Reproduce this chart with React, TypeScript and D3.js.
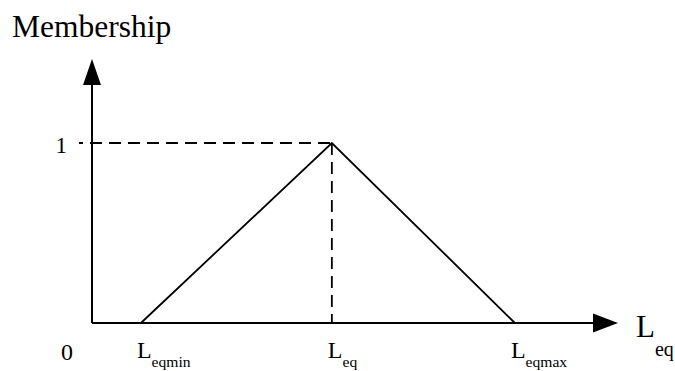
import React from "react";
import * as d3 from "d3";

const W = 675;
const H = 371;

// Triangular membership function points
const pointNames = ["Leqmin", "Leq", "Leqmax"];
const pointX = [9.3, 45.6, 80.4];
const membership = [0, 1, 0];

// Tick labels
const bottomLabels = [
  { x: 9.3, main: "L", sub: "eqmin" },
  { x: 45.6, main: "L", sub: "eq" },
  { x: 80.4, main: "L", sub: "eqmax" },
];
const yTickLabel = "1";
const originLabel = "0";
const yTitle = "Membership";
const xTitleMain = "L";
const xTitleSub = "eq";

export default function App() {
  const x = d3.scaleLinear().domain([0, 100]).range([92, 618]);
  const y = d3.scaleLinear().domain([0, 1]).range([323, 143]);

  const font = "'Liberation Serif', 'Times New Roman', serif";

  const tri = d3
    .line<number>()
    .x((_, i) => x(pointX[i]))
    .y((d) => y(d))(membership) as string;

  const peakX = x(pointX[1]);
  const x0 = x(0);
  const y0 = y(0);
  const y1 = y(1);
  const yTop = 59;
  const xEnd = 618;

  return (
    <svg
      width={W}
      height={H}
      style={{ position: "absolute", left: 0, top: 0, display: "block", background: "#fff" }}
    >
      {/* title */}
      <text x={12} y={37} fontFamily={font} fontSize={31.5} fill="#000">
        {yTitle}
      </text>

      {/* y axis */}
      <line x1={x0} y1={y0} x2={x0} y2={yTop + 20} stroke="#000" strokeWidth={2} />
      <path
        d={`M${x0},${yTop} L${x0 - 9},${yTop + 26} L${x0 + 9},${yTop + 26} Z`}
        fill="#000"
      />

      {/* x axis */}
      <line x1={x0} y1={y0} x2={xEnd - 20} y2={y0} stroke="#000" strokeWidth={2} />
      <path
        d={`M${xEnd},${y0} L${xEnd - 25},${y0 - 9.5} L${xEnd - 25},${y0 + 9.5} Z`}
        fill="#000"
      />

      {/* dashed guides */}
      <line
        x1={79}
        y1={y1}
        x2={peakX}
        y2={y1}
        stroke="#000"
        strokeWidth={1.8}
        strokeDasharray="12 7"
        strokeDashoffset={8}
      />
      <line
        x1={peakX}
        y1={y1}
        x2={peakX}
        y2={y0}
        stroke="#000"
        strokeWidth={1.8}
        strokeDasharray="12 7"
      />

      {/* triangle */}
      <path d={tri} fill="none" stroke="#000" strokeWidth={1.8} strokeLinejoin="miter" />

      {/* y tick label */}
      <text x={55.5} y={153} fontFamily={font} fontSize={23} fill="#000">
        {yTickLabel}
      </text>

      {/* origin */}
      <text x={61} y={360} fontFamily={font} fontSize={24} fill="#000">
        {originLabel}
      </text>

      {/* bottom labels */}
      {bottomLabels.map((b, i) => (
        <text
          key={pointNames[i]}
          x={x(b.x) - 4}
          y={358}
          fontFamily={font}
          fontSize={24}
          fill="#000"
        >
          {b.main}
          <tspan fontSize={15.6} dy={9}>
            {b.sub}
          </tspan>
        </text>
      ))}

      {/* x title */}
      <text x={636} y={337} fontFamily={font} fontSize={31} fill="#000">
        {xTitleMain}
        <tspan fontSize={20} dy={19}>
          {xTitleSub}
        </tspan>
      </text>
    </svg>
  );
}
